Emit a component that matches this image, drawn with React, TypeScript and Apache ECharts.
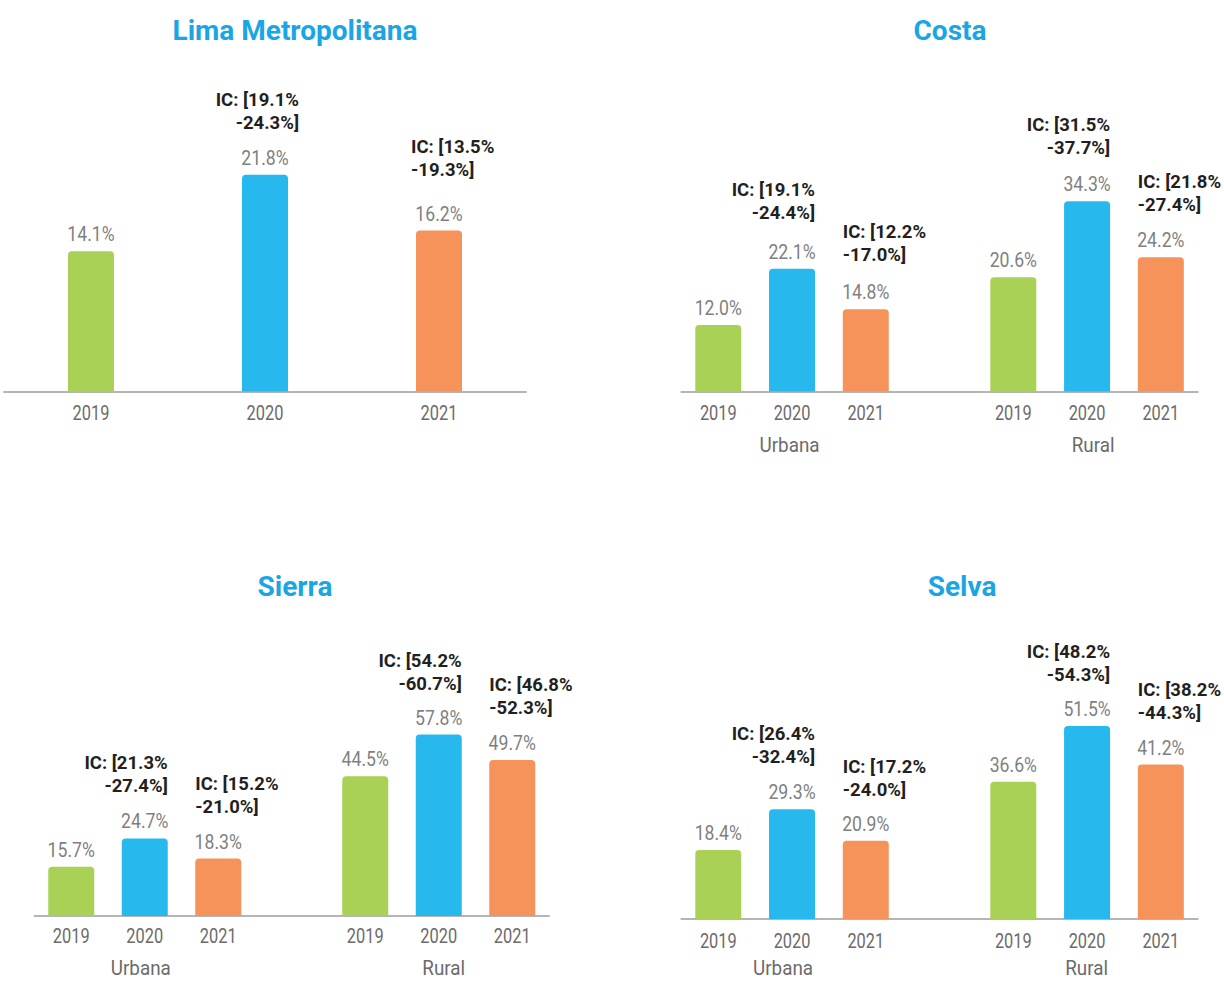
import React, { useEffect, useRef } from "react";
import * as echarts from "echarts";

// ---------- data ----------
const years = ["2019", "2020", "2021"];
const areas = ["Urbana", "Rural"];
const titles = ["Lima Metropolitana", "Costa", "Sierra", "Selva"];

const limaValues = [14.1, 21.8, 16.2];
const limaICLow = [null, 19.1, 13.5];
const limaICHigh = [null, 24.3, 19.3];

const costaUrbanaValues = [12.0, 22.1, 14.8];
const costaRuralValues = [20.6, 34.3, 24.2];
const costaUrbanaICLow = [null, 19.1, 12.2];
const costaUrbanaICHigh = [null, 24.4, 17.0];
const costaRuralICLow = [null, 31.5, 21.8];
const costaRuralICHigh = [null, 37.7, 27.4];

const sierraUrbanaValues = [15.7, 24.7, 18.3];
const sierraRuralValues = [44.5, 57.8, 49.7];
const sierraUrbanaICLow = [null, 21.3, 15.2];
const sierraUrbanaICHigh = [null, 27.4, 21.0];
const sierraRuralICLow = [null, 54.2, 46.8];
const sierraRuralICHigh = [null, 60.7, 52.3];

const selvaUrbanaValues = [18.4, 29.3, 20.9];
const selvaRuralValues = [36.6, 51.5, 41.2];
const selvaUrbanaICLow = [null, 26.4, 17.2];
const selvaUrbanaICHigh = [null, 32.4, 24.0];
const selvaRuralICLow = [null, 48.2, 38.2];
const selvaRuralICHigh = [null, 54.3, 44.3];

// ---------- styles ----------
const yearColors = ["#a9d156", "#27b9ee", "#f6935a"];
const FONT = "Roboto, 'Noto Sans', sans-serif";
const TITLE_COLOR = "#1aa6e4";
const VALUE_COLOR = "#7f7f7f";
const AXIS_COLOR = "#6b6b6b";
const IC_COLOR = "#231f20";

type Panel = {
  title: string;
  titleX: number;
  titleY: number;
  grouped: boolean;
  values: (number | null)[];
  icLow: (number | null)[];
  icHigh: (number | null)[];
  left: number;
  width: number;
  top: number;
  height: number;
  max: number;
  yearDy: number;
  groupDy: number;
  groupDx: [number, number];
  icOffset: [number, number];
  icLift: number[];
};

const joinGroups = <T,>(a: T[], b: T[]): (T | null)[] => [...a, null, ...b];

const panels: Panel[] = [
  {
    title: titles[0], titleX: 295, titleY: 30, grouped: false,
    values: limaValues, icLow: limaICLow, icHigh: limaICHigh,
    left: 4, width: 522, top: 143, height: 248.5, max: 25,
    yearDy: 21.5, groupDy: 0, groupDx: [0, 0], icOffset: [34, -28],
    icLift: [0, 0, 8],
  },
  {
    title: titles[1], titleX: 950, titleY: 30, grouped: true,
    values: joinGroups(costaUrbanaValues, costaRuralValues),
    icLow: joinGroups(costaUrbanaICLow, costaRuralICLow),
    icHigh: joinGroups(costaUrbanaICHigh, costaRuralICHigh),
    left: 681.4, width: 516.3, top: 169.5, height: 222, max: 40,
    yearDy: 21.5, groupDy: 54, groupDx: [-2.5, 6], icOffset: [23, -23],
    icLift: [0, 4, 2, 0, 0, 1, 0],
  },
  {
    title: titles[2], titleX: 295, titleY: 586, grouped: true,
    values: joinGroups(sierraUrbanaValues, sierraRuralValues),
    icLow: joinGroups(sierraUrbanaICLow, sierraRuralICLow),
    icHigh: joinGroups(sierraUrbanaICHigh, sierraRuralICHigh),
    left: 34.5, width: 514.5, top: 696.2, height: 219.8, max: 70,
    yearDy: 20.5, groupDy: 52, groupDx: [-4, 5], icOffset: [23, -23],
    icLift: [0, 0, 0, 0, 0, -1, 0],
  },
  {
    title: titles[3], titleX: 962, titleY: 586, grouped: true,
    values: joinGroups(selvaUrbanaValues, selvaRuralValues),
    icLow: joinGroups(selvaUrbanaICLow, selvaRuralICLow),
    icHigh: joinGroups(selvaUrbanaICHigh, selvaRuralICHigh),
    left: 681.4, width: 516.3, top: 694, height: 225, max: 60,
    yearDy: 22, groupDy: 49.5, groupDx: [-9, -0.5], icOffset: [23, -23],
    icLift: [0, 0, -1, 0, 0, -1, 0],
  },
];

function txt(
  x: number, y: number, text: string, font: string, fill: string,
  align: string, scaleX: number, lineHeight?: number
) {
  const style: any = { text, font, fill, textAlign: align, textVerticalAlign: "middle" };
  if (lineHeight) style.lineHeight = lineHeight;
  return { type: "text", x, y, scaleX, silent: true, style };
}

function buildOption() {
  const grid: any[] = [];
  const xAxis: any[] = [];
  const yAxis: any[] = [];
  const series: any[] = [];
  const graphic: any[] = [];

  panels.forEach((p, gi) => {
    grid.push({ left: p.left, width: p.width, top: p.top, height: p.height, containLabel: false });

    const cats = p.grouped
      ? [...years.map((y) => areas[0] + "|" + y), "gap|", ...years.map((y) => areas[1] + "|" + y)]
      : years.map((y) => "x|" + y);

    xAxis.push({
      type: "category",
      gridIndex: gi,
      data: cats,
      position: "bottom",
      axisLine: { show: true, lineStyle: { color: "#b5b5b5", width: 2 } },
      axisTick: { show: false },
      splitLine: { show: false },
      axisLabel: { show: false },
    });
    yAxis.push({
      type: "value",
      gridIndex: gi,
      min: 0,
      max: p.max,
      show: false,
      splitLine: { show: false },
    });

    const yearOf = (i: number) => (p.grouped ? i % 4 : i);
    const groupOf = (i: number) => (i < 4 ? 0 : 1);

    const barData = p.values.map((v, i) =>
      v == null ? null : { value: v, itemStyle: { color: yearColors[yearOf(i)] } }
    );

    series.push({
      type: "bar",
      xAxisIndex: gi,
      yAxisIndex: gi,
      barWidth: 46,
      silent: true,
      data: barData,
      itemStyle: { borderRadius: [4, 4, 0, 0] },
    });

    const items = p.values
      .map((v, i) => ({ i, v }))
      .filter((o) => o.v != null) as { i: number; v: number }[];

    series.push({
      type: "custom",
      coordinateSystem: "cartesian2d",
      xAxisIndex: gi,
      yAxisIndex: gi,
      silent: true,
      clip: false,
      z: 5,
      data: items.map((o) => [o.i, o.v]),
      renderItem: (params: any, api: any) => {
        const it = items[params.dataIndex];
        const top = api.coord([it.i, it.v]);
        const base = api.coord([it.i, 0]);
        const cx = top[0];
        const yi = yearOf(it.i);
        const children: any[] = [];
        children.push(txt(cx, top[1] - 17, it.v.toFixed(1) + "%", "21px " + FONT, VALUE_COLOR, "center", 0.84));
        children.push(txt(cx, base[1] + p.yearDy, years[yi], "21px " + FONT, AXIS_COLOR, "center", 0.78));
        if (p.grouped && yi === 1) {
          const g = groupOf(it.i);
          children.push(
            txt(cx + p.groupDx[g], base[1] + p.groupDy, areas[g], "20.5px " + FONT, AXIS_COLOR, "center", 0.92, 18)
          );
        }
        const lo = p.icLow[it.i];
        const hi = p.icHigh[it.i];
        if (lo != null && hi != null) {
          const right = yi === 1;
          const ax = cx + (right ? p.icOffset[0] : p.icOffset[1]);
          const al = right ? "right" : "left";
          const lift = p.icLift[it.i] || 0;
          children.push(txt(ax, top[1] - 75 - lift, "IC: [" + lo.toFixed(1) + "%", "bold 18.5px " + FONT, IC_COLOR, al, 1));
          children.push(txt(ax, top[1] - 52 - lift, "-" + hi.toFixed(1) + "%]", "bold 18.5px " + FONT, IC_COLOR, al, 1));
        }
        return { type: "group", children };
      },
    });

    graphic.push({
      type: "text",
      x: p.titleX,
      y: p.titleY,
      style: {
        text: p.title,
        fill: TITLE_COLOR,
        font: "bold 28px " + FONT,
        textAlign: "center",
        textVerticalAlign: "middle",
      },
    });
  });

  return {
    animation: false,
    backgroundColor: "#ffffff",
    grid,
    xAxis,
    yAxis,
    series,
    graphic,
  };
}

export default function App() {
  const ref = useRef<HTMLDivElement>(null);
  useEffect(() => {
    if (!ref.current) return;
    const chart = echarts.init(ref.current, undefined, { renderer: "svg" });
    chart.setOption(buildOption() as any);
    return () => chart.dispose();
  }, []);
  return (
    <div
      ref={ref}
      style={{ position: "absolute", left: 0, top: 0, width: 1224, height: 982, background: "#fff" }}
    />
  );
}
